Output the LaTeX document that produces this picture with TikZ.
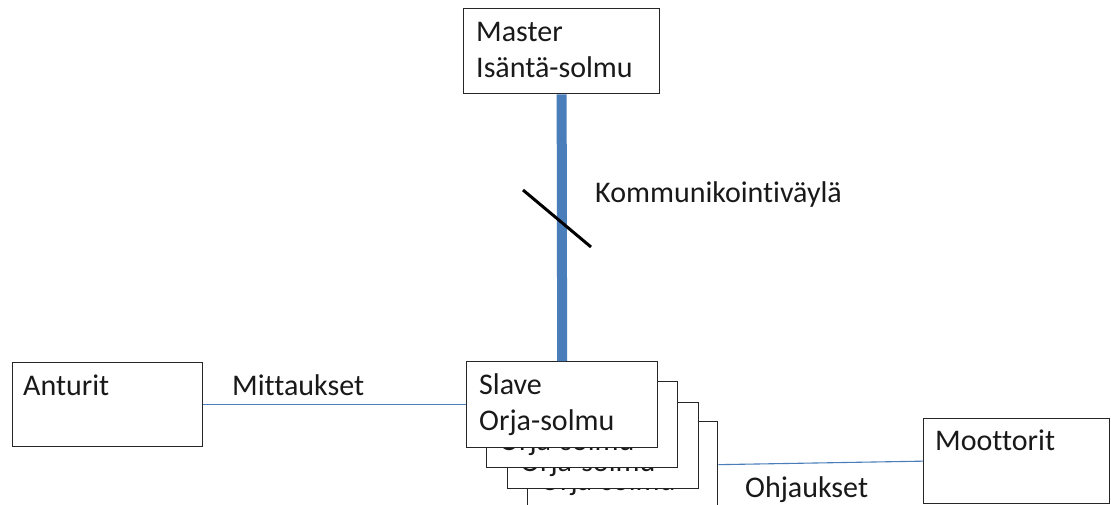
\documentclass[tikz,border=0pt]{standalone}
\usepackage{fontspec}
\setmainfont{Carlito}[Ligatures={NoCommon}]
\usetikzlibrary{calc}
\definecolor{busblue}{HTML}{4A7EBB}
\definecolor{boxline}{HTML}{262626}
\begin{document}
\begin{tikzpicture}[x=1pt,y=-1pt,
  box/.style={draw=boxline, line width=1.3pt, fill=white, inner sep=0pt, anchor=north west},
  txt/.style={inner sep=0pt, anchor=north west, align=left, font=\fontsize{30}{36}\selectfont, text=black!90},
  lbl/.style={inner sep=0pt, anchor=base west, font=\fontsize{30}{36}\selectfont, text=black!90},
  bus/.style={draw=busblue, line width=10pt},
  wire/.style={draw=busblue, line width=1.1pt},
  slash/.style={draw=black, line width=3pt}
]
\useasboundingbox (0,0) rectangle (1111,504);
\fill[white] (0,0) rectangle (1111,504);

% Master
\node[box, minimum width=196pt, minimum height=85pt] (master) at (463,8) {};
\node[txt] (mastertxt) at ($(master.north west)+(13,9)$) {\rule{0pt}{24pt}Master\\Isäntä-solmu};

% Slave stack (back to front); the back copies only show their second line
\node[box, minimum width=190pt, minimum height=86pt] (slave4) at (527,421) {};
\node[lbl] (slave4txt) at ($(slave4.north west)+(13,69)$) {Orja-solmu};
\node[box, minimum width=191pt, minimum height=86pt] (slave3) at (507,402) {};
\node[lbl] (slave3txt) at ($(slave3.north west)+(13,69)$) {Orja-solmu};
\node[box, minimum width=191pt, minimum height=86pt] (slave2) at (486,381) {};
\node[lbl] (slave2txt) at ($(slave2.north west)+(13,69)$) {Orja-solmu};
\node[box, minimum width=191pt, minimum height=86pt] (slave1) at (466,361) {};
\node[txt] (slave1txt) at ($(slave1.north west)+(13,9)$) {\rule{0pt}{24pt}Slave\\Orja-solmu};

% Anturit and Moottorit
\node[box, minimum width=190pt, minimum height=84pt] (anturit) at (12,362) {};
\node[txt] (anturittxt) at ($(anturit.north west)+(11,9)$) {\rule{0pt}{24pt}Anturit};
\node[box, minimum width=186pt, minimum height=85pt] (moottorit) at (923,418) {};
\node[txt] (moottorittxt) at ($(moottorit.north west)+(12,8)$) {\rule{0pt}{24pt}Moottorit};

% Bus
\draw[bus] (master.south) -- (slave1.north);
\coordinate (busmid) at (557,218);
\draw[slash] ($(busmid)+(-34,-28)$) -- ($(busmid)+(34,29)$);
\node[lbl] (buslbl) at (595,202) {Kommunikointiväylä};

% Wires
\draw[wire] (anturit.east) -- (slave1.west);
\node[lbl] (mittlbl) at (232,395) {Mittaukset};
\draw[wire] (slave4.east) -- (moottorit.west);
\node[lbl] (ohjlbl) at (745,497) {Ohjaukset};
\end{tikzpicture}
\end{document}
